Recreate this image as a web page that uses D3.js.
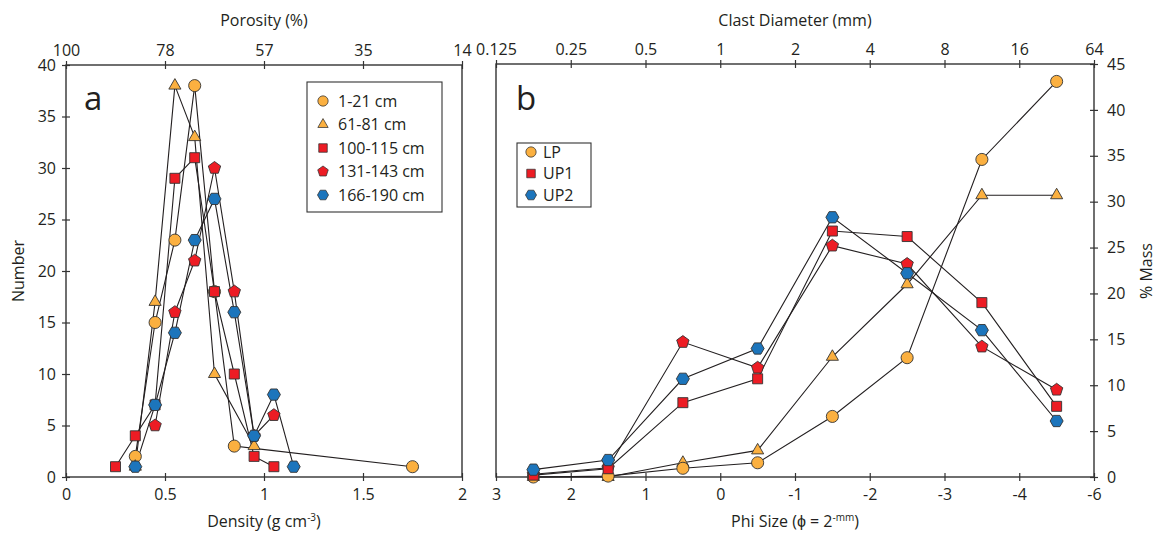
<!DOCTYPE html>
<html>
<head>
<meta charset="utf-8">
<script src="https://cdn.jsdelivr.net/npm/d3@7"></script>
<style>
  body { margin: 0; background: #fff; }
  svg text { font-family: "Open Sans", sans-serif; fill: #231f20; }
</style>
</head>
<body>
<div id="root"></div>
<script>
// --- panel a : density histograms (density, number)
const a_1_21    = [[0.35, 2], [0.45, 15], [0.55, 23], [0.65, 38], [0.75, 18], [0.85, 3], [1.75, 1]];
const a_61_81   = [[0.35, 1], [0.45, 17], [0.55, 38], [0.65, 33], [0.75, 10], [0.95, 3]];
const a_100_115 = [[0.25, 1], [0.35, 4], [0.45, 7], [0.55, 29], [0.65, 31], [0.75, 18], [0.85, 10], [0.95, 2], [1.05, 1]];
const a_131_143 = [[0.45, 5], [0.55, 16], [0.65, 21], [0.75, 30], [0.85, 18], [0.95, 4], [1.05, 6]];
const a_166_190 = [[0.35, 1], [0.45, 7], [0.55, 14], [0.65, 23], [0.75, 27], [0.85, 16], [0.95, 4], [1.05, 8], [1.15, 1]];
const legendA   = ["1-21 cm", "61-81 cm", "100-115 cm", "131-143 cm", "166-190 cm"];

const densTicks   = [0, 0.5, 1, 1.5, 2];
const densLabels  = ["0", "0.5", "1", "1.5", "2"];
const porosLabels = ["100", "78", "57", "35", "14"];
const numTicks    = [0, 5, 10, 15, 20, 25, 30, 35, 40];

// --- panel b : grain size (phi, % mass)
const phiMid   = [2.5, 1.5, 0.5, -0.5, -1.5, -2.5, -3.5, -4.5];
const massLP   = [0, 0.1, 0.95, 1.55, 6.6, 13.0, 34.6, 43.1];
const massLPb  = [0, 0, 1.55, 2.9, 13.1, 21.0, 30.7, 30.7];
const massUP1  = [0.2, 0.9, 8.1, 10.7, 26.8, 26.2, 19.0, 7.7];
const massUP1b = [0.3, 1.0, 14.7, 11.9, 25.2, 23.2, 14.2, 9.5];
const massUP2  = [0.8, 1.85, 10.7, 14.0, 28.3, 22.2, 16.0, 6.1];
const legendB  = ["LP", "UP1", "UP2"];

const phiTicks    = [3, 2, 1, 0, -1, -2, -3, -4, -5];
const phiLabels   = ["3", "2", "1", "0", "-1", "-2", "-3", "-4", "-6"];
const clastLabels = ["0.125", "0.25", "0.5", "1", "2", "4", "8", "16", "64"];
const massTicks   = [0, 5, 10, 15, 20, 25, 30, 35, 40, 45];

const orange = "#fbb040", red = "#ed1c24", blue = "#1c75bc";
const FS = 16;

const W = 1157, H = 535;
const svg = d3.select("#root").append("svg")
    .attr("width", W).attr("height", H);

// polygon path centred on 0,0
function poly(n, r, rot) {
    const pts = d3.range(n).map(i => {
        const a = rot + i * 2 * Math.PI / n;
        return [r * Math.cos(a), r * Math.sin(a)];
    });
    return "M" + pts.map(p => p.join(",")).join("L") + "Z";
}
const shapes = {
    circle:   d3.symbol().type(d3.symbolCircle).size(115)(),
    triangle: poly(3, 7, -Math.PI / 2),
    square:   d3.symbol().type(d3.symbolSquare).size(100)(),
    pentagon: poly(5, 6.5, -Math.PI / 2),
    hexagon:  poly(6, 6.5, 0)
};

// scales
const xA = d3.scaleLinear().domain([0, 2]).range([66, 462]);
const yA = d3.scaleLinear().domain([0, 40]).range([477, 65]);
const xB = d3.scaleLinear().domain([3, -5]).range([496, 1094]);
const yB = d3.scaleLinear().domain([0, 45]).range([477, 64]);

function crossTicks(g, horiz) {
    g.select(".domain").remove();
    g.selectAll(".tick line").attr("stroke", "#333").attr("stroke-width", 1.2);
    if (horiz) g.selectAll(".tick line").attr("y1", -4).attr("y2", 4);
    else g.selectAll(".tick line").attr("x1", -4).attr("x2", 4);
    g.selectAll(".tick text").attr("font-size", FS).attr("fill", "#231f20")
        .attr("font-family", '"Open Sans", sans-serif');
}

// ---------- panel a
const ga = svg.append("g");
ga.append("g").attr("transform", "translate(0,477)")
    .call(d3.axisBottom(xA).tickValues(densTicks).tickFormat((d, i) => densLabels[i]).tickSize(4).tickPadding(8))
    .call(g => crossTicks(g, true));
ga.append("g").attr("transform", "translate(0,65)")
    .call(d3.axisTop(xA).tickValues(densTicks).tickFormat((d, i) => porosLabels[i]).tickSize(4).tickPadding(5))
    .call(g => crossTicks(g, true));
ga.append("g").attr("transform", "translate(66,0)")
    .call(d3.axisLeft(yA).tickValues(numTicks).tickSize(4).tickPadding(6))
    .call(g => crossTicks(g, false));
ga.append("rect").attr("x", 66).attr("y", 65).attr("width", 396).attr("height", 412)
    .attr("fill", "none").attr("stroke", "#333").attr("stroke-width", 1.4);

const lineA = d3.line().x(d => xA(d[0])).y(d => yA(d[1]));
const seriesA = [
    { data: a_1_21, shape: "circle", color: orange },
    { data: a_61_81, shape: "triangle", color: orange },
    { data: a_100_115, shape: "square", color: red },
    { data: a_131_143, shape: "pentagon", color: red },
    { data: a_166_190, shape: "hexagon", color: blue }
];
seriesA.forEach(s => {
    ga.append("path").datum(s.data).attr("d", lineA)
        .attr("fill", "none").attr("stroke", "#231f20").attr("stroke-width", 1.1);
});
seriesA.forEach(s => {
    ga.append("g").selectAll("path").data(s.data).join("path")
        .attr("d", shapes[s.shape])
        .attr("transform", d => `translate(${xA(d[0])},${yA(d[1])})`)
        .attr("fill", s.color).attr("stroke", "#333").attr("stroke-width", 0.9);
});

ga.append("text").attr("x", 264).attr("y", 26).attr("text-anchor", "middle")
    .attr("font-size", FS).text("Porosity (%)");
const dl = ga.append("text").attr("x", 264).attr("y", 527).attr("text-anchor", "middle")
    .attr("font-size", FS);
dl.append("tspan").text("Density (g cm");
dl.append("tspan").attr("font-size", 10).attr("dy", -6).text("-3");
dl.append("tspan").attr("dy", 6).text(")");
ga.append("text").attr("transform", "translate(24,271) rotate(-90)").attr("text-anchor", "middle")
    .attr("font-size", FS).text("Number");
ga.append("text").attr("x", 84).attr("y", 110).attr("font-size", 33).text("a");

// legend a
ga.append("rect").attr("x", 307).attr("y", 82).attr("width", 135).attr("height", 130)
    .attr("fill", "#fff").attr("stroke", "#333").attr("stroke-width", 1.1);
seriesA.forEach((s, i) => {
    const y = 101 + i * 23.5;
    ga.append("path").attr("d", shapes[s.shape])
        .attr("transform", `translate(323,${y}) scale(0.85)`)
        .attr("fill", s.color).attr("stroke", "#333").attr("stroke-width", 0.9);
    ga.append("text").attr("x", 338).attr("y", y + 5.5).attr("font-size", FS).text(legendA[i]);
});

// ---------- panel b
const gb = svg.append("g");
gb.append("g").attr("transform", "translate(0,477)")
    .call(d3.axisBottom(xB).tickValues(phiTicks).tickFormat((d, i) => phiLabels[i]).tickSize(4).tickPadding(8))
    .call(g => crossTicks(g, true));
gb.append("g").attr("transform", "translate(0,64)")
    .call(d3.axisTop(xB).tickValues(phiTicks).tickFormat((d, i) => clastLabels[i]).tickSize(4).tickPadding(5))
    .call(g => crossTicks(g, true));
gb.append("g").attr("transform", "translate(1094,0)")
    .call(d3.axisRight(yB).tickValues(massTicks).tickSize(4).tickPadding(9))
    .call(g => crossTicks(g, false));
gb.append("rect").attr("x", 496).attr("y", 64).attr("width", 598).attr("height", 413)
    .attr("fill", "none").attr("stroke", "#333").attr("stroke-width", 1.4);

const lineB = d3.line().x((d, i) => xB(phiMid[i])).y(d => yB(d));
const seriesB = [
    { data: massLPb, shape: "triangle", color: orange },
    { data: massLP, shape: "circle", color: orange },
    { data: massUP1b, shape: "pentagon", color: red },
    { data: massUP1, shape: "square", color: red },
    { data: massUP2, shape: "hexagon", color: blue }
];
seriesB.forEach(s => {
    gb.append("path").datum(s.data).attr("d", lineB)
        .attr("fill", "none").attr("stroke", "#231f20").attr("stroke-width", 1.1);
});
seriesB.forEach(s => {
    gb.append("g").selectAll("path").data(s.data).join("path")
        .attr("d", shapes[s.shape])
        .attr("transform", (d, i) => `translate(${xB(phiMid[i])},${yB(d)})`)
        .attr("fill", s.color).attr("stroke", "#333").attr("stroke-width", 0.9);
});

gb.append("text").attr("x", 795).attr("y", 26).attr("text-anchor", "middle")
    .attr("font-size", FS).text("Clast Diameter (mm)");
const pl = gb.append("text").attr("x", 795).attr("y", 527).attr("text-anchor", "middle")
    .attr("font-size", FS);
pl.append("tspan").text("Phi Size (\u03d5 = 2");
pl.append("tspan").attr("font-size", 10).attr("dy", -6).text("-mm");
pl.append("tspan").attr("dy", 6).text(")");
gb.append("text").attr("transform", "translate(1152,271) rotate(-90)").attr("text-anchor", "middle")
    .attr("font-size", FS).text("% Mass");
gb.append("text").attr("x", 516).attr("y", 110).attr("font-size", 33).text("b");

// legend b
const legShapes = [["circle", orange], ["square", red], ["hexagon", blue]];
gb.append("rect").attr("x", 517).attr("y", 143).attr("width", 74).attr("height", 64)
    .attr("fill", "#fff").attr("stroke", "#333").attr("stroke-width", 1.1);
legShapes.forEach((s, i) => {
    const y = 152 + i * 21.5;
    gb.append("path").attr("d", shapes[s[0]])
        .attr("transform", `translate(531,${y}) scale(0.85)`)
        .attr("fill", s[1]).attr("stroke", "#333").attr("stroke-width", 0.9);
    gb.append("text").attr("x", 543).attr("y", y + 5.5).attr("font-size", FS).text(legendB[i]);
});
</script>
</body>
</html>
